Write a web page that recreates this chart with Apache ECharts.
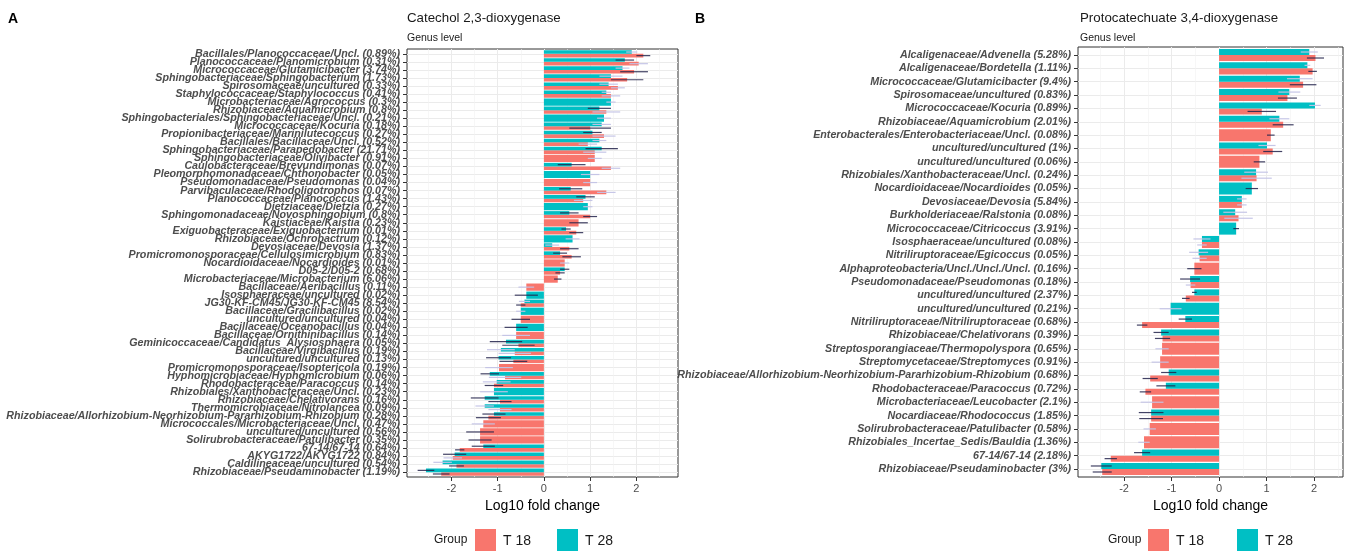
<!DOCTYPE html>
<html>
<head>
<meta charset="utf-8">
<script src="https://cdn.jsdelivr.net/npm/echarts@6/dist/echarts.min.js"></script>
<style>
  html, body { margin: 0; padding: 0; background: #ffffff; }
  #chart { width: 1357px; height: 551px; }
</style>
</head>
<body>
<div id="chart"></div>
<script>
// ---------- Panel A: catechol 2,3-dioxygenase, genus level ----------
const catecholTaxa = [
  'Bacillales/Planococcaceae/Uncl. (0.89%)',
  'Planococcaceae/Planomicrobium (0.31%)',
  'Micrococcaceae/Glutamicibacter (3.74%)',
  'Sphingobacteriaceae/Sphingobacterium (1.73%)',
  'Spirosomaceae/uncultured (0.33%)',
  'Staphylococcaceae/Staphylococcus (0.41%)',
  'Microbacteriaceae/Agrococcus (0.3%)',
  'Rhizobiaceae/Aquamicrobium (0.8%)',
  'Sphingobacteriales/Sphingobacteriaceae/Uncl. (0.21%)',
  'Micrococcaceae/Kocuria (0.18%)',
  'Propionibacteriaceae/Marinilutecoccus (0.27%)',
  'Bacillales/Bacillaceae/Uncl. (0.52%)',
  'Sphingobacteriaceae/Parapedobacter (21.71%)',
  'Sphingobacteriaceae/Olivibacter (0.91%)',
  'Caulobacteraceae/Brevundimonas (0.07%)',
  'Pleomorphomonadaceae/Chthonobacter (0.05%)',
  'Pseudomonadaceae/Pseudomonas (0.04%)',
  'Parvibaculaceae/Rhodoligotrophos (0.07%)',
  'Planococcaceae/Planococcus (1.43%)',
  'Dietziaceae/Dietzia (0.27%)',
  'Sphingomonadaceae/Novosphingobium (0.8%)',
  'Kaistiaceae/Kaistia (0.23%)',
  'Exiguobacteraceae/Exiguobacterium (0.01%)',
  'Rhizobiaceae/Ochrobactrum (0.12%)',
  'Devosiaceae/Devosia (1.37%)',
  'Promicromonosporaceae/Cellulosimicrobium (0.83%)',
  'Nocardioidaceae/Nocardioides (0.01%)',
  'D05-2/D05-2 (0.68%)',
  'Microbacteriaceae/Microbacterium (6.06%)',
  'Bacillaceae/Aeribacillus (0.11%)',
  'Isosphaeraceae/uncultured (0.02%)',
  'JG30-KF-CM45/JG30-KF-CM45 (8.54%)',
  'Bacillaceae/Gracilibacillus (0.02%)',
  'uncultured/uncultured (0.04%)',
  'Bacillaceae/Oceanobacillus (0.04%)',
  'Bacillaceae/Ornithinibacillus (0.14%)',
  'Geminicoccaceae/Candidatus_Alysiosphaera (0.05%)',
  'Bacillaceae/Virgibacillus (0.19%)',
  'uncultured/uncultured (0.13%)',
  'Promicromonosporaceae/Isoptericola (0.19%)',
  'Hyphomicrobiaceae/Hyphomicrobium (0.06%)',
  'Rhodobacteraceae/Paracoccus (0.14%)',
  'Rhizobiales/Xanthobacteraceae/Uncl. (0.23%)',
  'Rhizobiaceae/Chelativorans (0.16%)',
  'Thermomicrobiaceae/Nitrolancea (0.09%)',
  'Rhizobiaceae/Allorhizobium-Neorhizobium-Pararhizobium-Rhizobium (0.28%)',
  'Micrococcales/Microbacteriaceae/Uncl. (0.47%)',
  'uncultured/uncultured (0.56%)',
  'Solirubrobacteraceae/Patulibacter (0.35%)',
  '67-14/67-14 (0.64%)',
  'AKYG1722/AKYG1722 (0.84%)',
  'Caldilineaceae/uncultured (0.54%)',
  'Rhizobiaceae/Pseudaminobacter (1.19%)'
];
// log10 fold change, mean per group (null = genus not detected in that group)
const catecholT18 = [2.15, 2.05, 1.95, 1.8, 1.6, 1.45, null, 1.35, null, 1.0,
  1.3, 0.95, 1.1, 1.1, 1.45, null, 1.0, 1.35, 0.85, null,
  1.0, 0.75, 0.7, null, 0.55, 0.6, 0.45, 0.35, 0.3, -0.38,
  null, -0.5, null, -0.5, null, -0.6, -0.55, -0.63, -0.66, -0.97,
  -0.84, -1.08, null, -0.95, -0.95, -1.2, -1.31, -1.38, -1.38, -1.82,
  -1.97, -1.89, -2.22];
const catecholT28 = [1.9, 1.75, 1.7, 1.45, 1.4, 1.35, 1.45, 1.2, 1.3, 1.25,
  1.05, 1.2, 1.25, null, 0.6, 1.0, null, 0.58, 0.9, 0.95,
  0.55, null, 0.48, 0.62, 0.18, 0.35, null, 0.45, null, null,
  -0.38, -0.42, -0.5, null, -0.6, null, -0.82, -0.93, -0.98, null,
  -1.17, -1.02, -1.08, -1.28, -1.28, -1.08, null, null, null, -1.31,
  -1.93, -2.19, -2.55];
// standard deviations
const catecholT18Sd = [0.15, 0.2, 0.3, 0.35, 0.15, 0.2, 0, 0.3, 0, 0.45,
  0.25, 0.2, 0.25, 0.15, 0.2, 0, 0.15, 0.2, 0.2, 0,
  0.15, 0.2, 0.15, 0, 0.2, 0.2, 0.1, 0.1, 0.08, 0.17,
  0, 0.1, 0, 0.2, 0, 0.3, 0.35, 0.35, 0.3, 0.3,
  0.35, 0.2, 0, 0.25, 0.25, 0.27, 0.25, 0.3, 0.25, 0.1,
  0.2, 0.16, 0.18];
const catecholT28Sd = [0.12, 0.2, 0.15, 0.25, 0.2, 0.1, 0.1, 0.25, 0.15, 0.2,
  0.2, 0.15, 0.35, 0, 0.3, 0.2, 0, 0.25, 0.2, 0.1,
  0.2, 0, 0.1, 0.15, 0.15, 0.15, 0, 0.1, 0, 0,
  0.25, 0.12, 0.1, 0, 0.25, 0, 0.35, 0.3, 0.27, 0,
  0.2, 0.3, 0.3, 0.3, 0.2, 0.25, 0, 0, 0, 0.25,
  0.25, 0.2, 0.18];
// 1 = error bar drawn in the pale shade
const catecholT18Pale = [0, 1, 0, 0, 1, 1, 0, 1, 0, 0,
  1, 1, 1, 1, 1, 0, 1, 1, 1, 0,
  0, 0, 0, 0, 0, 0, 1, 0, 0, 1,
  0, 0, 0, 0, 0, 1, 0, 1, 0, 1,
  1, 0, 0, 0, 1, 0, 1, 0, 0, 0,
  1, 0, 0];
const catecholT28Pale = [1, 0, 1, 1, 1, 1, 1, 0, 1, 1,
  0, 1, 0, 0, 0, 1, 0, 0, 0, 1,
  0, 0, 0, 1, 1, 0, 0, 0, 0, 0,
  0, 1, 1, 0, 0, 0, 0, 1, 0, 0,
  0, 1, 1, 0, 1, 0, 0, 0, 0, 0,
  0, 1, 0];

// ---------- Panel B: protocatechuate 3,4-dioxygenase, genus level ----------
const protoTaxa = [
  'Alcaligenaceae/Advenella (5.28%)',
  'Alcaligenaceae/Bordetella (1.11%)',
  'Micrococcaceae/Glutamicibacter (9.4%)',
  'Spirosomaceae/uncultured (0.83%)',
  'Micrococcaceae/Kocuria (0.89%)',
  'Rhizobiaceae/Aquamicrobium (2.01%)',
  'Enterobacterales/Enterobacteriaceae/Uncl. (0.08%)',
  'uncultured/uncultured (1%)',
  'uncultured/uncultured (0.06%)',
  'Rhizobiales/Xanthobacteraceae/Uncl. (0.24%)',
  'Nocardioidaceae/Nocardioides (0.05%)',
  'Devosiaceae/Devosia (5.84%)',
  'Burkholderiaceae/Ralstonia (0.08%)',
  'Micrococcaceae/Citricoccus (3.91%)',
  'Isosphaeraceae/uncultured (0.08%)',
  'Nitriliruptoraceae/Egicoccus (0.05%)',
  'Alphaproteobacteria/Uncl./Uncl./Uncl. (0.16%)',
  'Pseudomonadaceae/Pseudomonas (0.18%)',
  'uncultured/uncultured (2.37%)',
  'uncultured/uncultured (0.21%)',
  'Nitriliruptoraceae/Nitriliruptoraceae (0.68%)',
  'Rhizobiaceae/Chelativorans (0.39%)',
  'Streptosporangiaceae/Thermopolyspora (0.65%)',
  'Streptomycetaceae/Streptomyces (0.91%)',
  'Rhizobiaceae/Allorhizobium-Neorhizobium-Pararhizobium-Rhizobium (0.68%)',
  'Rhodobacteraceae/Paracoccus (0.72%)',
  'Microbacteriaceae/Leucobacter (2.1%)',
  'Nocardiaceae/Rhodococcus (1.85%)',
  'Solirubrobacteraceae/Patulibacter (0.58%)',
  'Rhizobiales_Incertae_Sedis/Bauldia (1.36%)',
  '67-14/67-14 (2.18%)',
  'Rhizobiaceae/Pseudaminobacter (3%)'
];
const protoT18 = [2.03, 1.97, 1.77, 1.44, 0.9, 1.35, 1.09, 1.13, 0.85, 0.79,
  null, 0.48, 0.41, null, -0.36, -0.41, -0.52, -0.6, -0.7, null,
  -1.62, -1.19, -1.2, -1.24, -1.45, -1.55, -1.41, -1.43, -1.46, -1.58,
  -2.28, -2.46];
const protoT28 = [1.9, 1.86, 1.7, 1.48, 2.02, 1.27, null, 1.01, null, 0.78,
  0.69, 0.48, 0.34, 0.36, -0.36, -0.43, null, -0.61, -0.52, -1.02,
  -0.71, -1.22, null, null, -1.06, -1.12, null, -1.43, null, null,
  -1.62, -2.48];
const protoT18Sd = [0.18, 0.09, 0.28, 0.2, 0.3, 0.22, 0.08, 0.2, 0.12, 0.32,
  0, 0.1, 0.3, 0, 0.1, 0.15, 0.15, 0.1, 0.08, 0,
  0.11, 0.16, 0.14, 0.18, 0.16, 0.12, 0.24, 0.25, 0.13, 0.12,
  0.13, 0.2];
const protoT28Sd = [0.18, 0.06, 0.27, 0.23, 0.12, 0.21, 0, 0.18, 0, 0.25,
  0.13, 0.1, 0.25, 0.06, 0.18, 0.2, 0, 0.21, 0.05, 0.23,
  0.14, 0.16, 0, 0, 0.16, 0.2, 0, 0.26, 0, 0,
  0.17, 0.22];
const protoT18Pale = [0, 0, 0, 0, 0, 0, 0, 0, 0, 1,
  0, 1, 1, 0, 1, 1, 0, 1, 0, 0,
  0, 0, 1, 1, 0, 0, 1, 0, 1, 1,
  0, 0];
const protoT28Pale = [1, 1, 1, 1, 1, 1, 0, 1, 0, 1,
  0, 1, 1, 0, 1, 1, 0, 0, 0, 1,
  0, 0, 0, 0, 0, 0, 0, 0, 0, 0,
  0, 0];

const xMajorTicks = [-2, -1, 0, 1, 2];
const xMinorTicks = [-2.5, -1.5, -0.5, 0.5, 1.5, 2.5];
const groupNames = ['T 18', 'T 28'];

// ---------- drawing ----------
const COLOR_T18 = '#F8766D';
const COLOR_T28 = '#00BFC4';
const FONT = 'Liberation Sans';

// one record per drawn bar: [value, row, sd, aloneInRow, pale]
function records(values, other, sd, pale) {
  const out = [];
  values.forEach((v, i) => {
    if (v === null) return;
    out.push([v, i, sd[i], other[i] === null ? 1 : 0, pale[i]]);
  });
  return out;
}

// dodged horizontal bar with a horizontal error bar through its middle
function barRenderer(slot) {
  return function (params, api) {
    const v = api.value(0), row = api.value(1), sd = api.value(2);
    const alone = api.value(3) === 1, pale = api.value(4) === 1;
    const band = Math.abs(api.size([0, 1])[1]);
    const full = band * 0.9;
    const base = api.coord([0, row]);
    const tip = api.coord([v, row]);
    let top, h;
    if (alone) { top = base[1] - full / 2; h = full; }
    else if (slot === 'upper') { top = base[1] - full / 2; h = full / 2; }
    else { top = base[1]; h = full / 2; }
    const mid = top + h / 2;
    const lo = api.coord([v - sd, row])[0];
    const hi = api.coord([v + sd, row])[0];
    return {
      type: 'group',
      children: [
        {
          type: 'rect',
          shape: { x: Math.min(base[0], tip[0]), y: top, width: Math.abs(tip[0] - base[0]), height: h },
          style: { fill: api.visual('color') }
        },
        {
          type: 'line',
          z2: 10,
          shape: { x1: lo, y1: mid, x2: hi, y2: mid },
          style: { stroke: pale ? '#c3c3e6' : '#22224a', lineWidth: 1.2, opacity: pale ? 0.95 : 0.85 }
        }
      ]
    };
  };
}

const panels = [
  { taxa: catecholTaxa, t18: catecholT18, t28: catecholT28, sd18: catecholT18Sd, sd28: catecholT28Sd,
    pale18: catecholT18Pale, pale28: catecholT28Pale,
    grid: { left: 407, top: 49, width: 271, height: 428 }, xMin: -2.96, xMax: 2.9 },
  { taxa: protoTaxa, t18: protoT18, t28: protoT28, sd18: protoT18Sd, sd28: protoT28Sd,
    pale18: protoT18Pale, pale28: protoT28Pale,
    grid: { left: 1078, top: 47, width: 265, height: 430 }, xMin: -2.97, xMax: 2.61 }
];

const labelStyle = {
  margin: 7, showMinLabel: true, showMaxLabel: true, hideOverlap: false,
  fontFamily: FONT, fontSize: 10.7, fontStyle: 'italic', fontWeight: 'bold', color: '#4d4d4d'
};

const grid = [], xAxis = [], yAxis = [], series = [];
panels.forEach((p, k) => {
  grid.push(Object.assign({
    show: true, borderColor: '#333333', borderWidth: 1, backgroundColor: 'transparent',
    containLabel: false, outerBoundsMode: 'none'
  }, p.grid));
  // value axis carrying the data, major grid lines and tick labels
  xAxis.push({
    type: 'value', gridIndex: k, min: p.xMin, max: p.xMax, position: 'bottom',
    name: 'Log10 fold change', nameLocation: 'middle', nameGap: 15,
    nameTextStyle: { fontFamily: FONT, fontSize: 14, color: '#000000' },
    axisLine: { show: false, onZero: false },
    axisTick: { show: true, length: 4, customValues: xMajorTicks, lineStyle: { color: '#333333' } },
    axisLabel: { customValues: xMajorTicks, margin: 6, fontFamily: FONT, fontSize: 11, color: '#4d4d4d' },
    splitLine: { show: true, lineStyle: { color: '#ebebeb', width: 1 } }
  });
  // companion axis for the minor vertical grid lines
  xAxis.push({
    type: 'value', gridIndex: k, min: p.xMin, max: p.xMax, position: 'top',
    axisLine: { show: false, onZero: false },
    axisTick: { show: false, customValues: xMinorTicks },
    axisLabel: { show: false },
    splitLine: { show: true, lineStyle: { color: '#f2f2f2', width: 0.6 } }
  });
  const rows = p.taxa.map((_, i) => i);
  const evenRows = rows.filter((i) => i % 2 === 0);
  const oddRows = rows.filter((i) => i % 2 === 1);
  const yRange = { min: -0.6, max: p.taxa.length - 0.4 };
  // taxon axis: ticks and grid lines on every row, names of even rows
  yAxis.push(Object.assign({
    type: 'value', gridIndex: k, inverse: true, position: 'left', offset: 0,
    axisLine: { show: false, onZero: false },
    axisTick: { show: true, length: 4, customValues: rows, lineStyle: { color: '#333333' } },
    axisLabel: Object.assign({ customValues: evenRows, formatter: (v) => p.taxa[Math.round(v)] }, labelStyle),
    splitLine: { show: true, lineStyle: { color: '#ebebeb', width: 1 } }
  }, yRange));
  // twin axis at the same place, names of odd rows (keeps dense names from being thinned out)
  yAxis.push(Object.assign({
    type: 'value', gridIndex: k, inverse: true, position: 'left', offset: 0,
    axisLine: { show: false, onZero: false },
    axisTick: { show: false, customValues: oddRows },
    axisLabel: Object.assign({ customValues: oddRows, formatter: (v) => p.taxa[Math.round(v)] }, labelStyle),
    splitLine: { show: false }
  }, yRange));
  const xi = k * 2, yi = k * 2;
  series.push({
    type: 'custom', name: 'T 18', xAxisIndex: xi, yAxisIndex: yi,
    itemStyle: { color: COLOR_T18 },
    renderItem: barRenderer('lower'),
    encode: { x: 0, y: 1 },
    data: records(p.t18, p.t28, p.sd18, p.pale18)
  });
  series.push({
    type: 'custom', name: 'T 28', xAxisIndex: xi, yAxisIndex: yi,
    itemStyle: { color: COLOR_T28 },
    renderItem: barRenderer('upper'),
    encode: { x: 0, y: 1 },
    data: records(p.t28, p.t18, p.sd28, p.pale28)
  });
});

const legendCommon = {
  data: groupNames, orient: 'horizontal', icon: 'rect',
  itemWidth: 21, itemHeight: 24, selectedMode: false,
  textStyle: { fontFamily: FONT, fontSize: 14, color: '#1a1a1a', padding: [0, 0, 0, 2] }
};

const titleFont = { fontFamily: FONT, fontSize: 13.3, fontWeight: 'normal', color: '#1a1a1a' };
const subFont = { fontFamily: FONT, fontSize: 10.5, color: '#1a1a1a' };

const option = {
  animation: false,
  backgroundColor: '#ffffff',
  textStyle: { fontFamily: FONT },
  title: [
    { text: 'A', left: 8, top: 12, padding: 0, textStyle: { fontFamily: FONT, fontSize: 14, fontWeight: 'bold', color: '#000' } },
    { text: 'Catechol 2,3-dioxygenase', subtext: 'Genus level', left: 407, top: 12, padding: 0, itemGap: 8,
      textStyle: titleFont, subtextStyle: subFont },
    { text: 'B', left: 695, top: 12, padding: 0, textStyle: { fontFamily: FONT, fontSize: 14, fontWeight: 'bold', color: '#000' } },
    { text: 'Protocatechuate 3,4-dioxygenase', subtext: 'Genus level', left: 1080, top: 12, padding: 0, itemGap: 8,
      textStyle: titleFont, subtextStyle: subFont }
  ],
  legend: [
    Object.assign({ left: 475, top: 529, itemGap: 26, padding: 0 }, legendCommon),
    Object.assign({ left: 1148, top: 529, itemGap: 33, padding: 0 }, legendCommon)
  ],
  graphic: [
    { type: 'text', left: 434, top: 534, style: { text: 'Group', fontFamily: FONT, fontSize: 12, fill: '#1a1a1a' } },
    { type: 'text', left: 1108, top: 534, style: { text: 'Group', fontFamily: FONT, fontSize: 12, fill: '#1a1a1a' } }
  ],
  grid, xAxis, yAxis, series
};

const chart = echarts.init(document.getElementById('chart'), null, { renderer: 'canvas' });
chart.setOption(option);
</script>
</body>
</html>
